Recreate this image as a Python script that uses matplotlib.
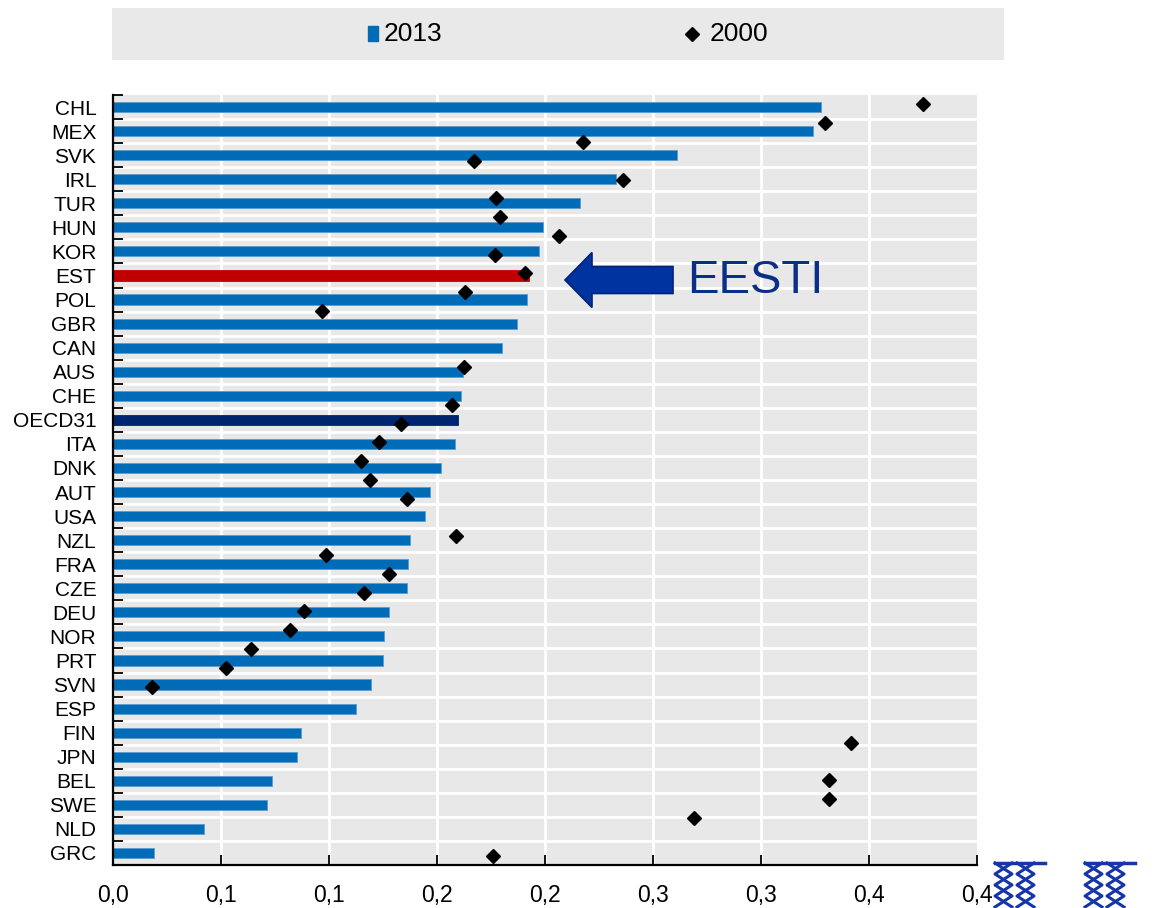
import matplotlib
matplotlib.use("Agg")
import matplotlib.pyplot as plt
from matplotlib.patches import Polygon, Rectangle
from matplotlib.lines import Line2D
import numpy as np

# ---------------- data ----------------
countries = ["CHL", "MEX", "SVK", "IRL", "TUR", "HUN", "KOR", "EST", "POL", "GBR",
             "CAN", "AUS", "CHE", "OECD31", "ITA", "DNK", "AUT", "USA", "NZL", "FRA",
             "CZE", "DEU", "NOR", "PRT", "SVN", "ESP", "FIN", "JPN", "BEL", "SWE",
             "NLD", "GRC"]
values_2013 = [0.328, 0.324, 0.261, 0.233, 0.216, 0.199, 0.197, 0.1925, 0.1915, 0.187,
               0.180, 0.162, 0.161, 0.1597, 0.1585, 0.152, 0.1466, 0.1443, 0.1375, 0.1367,
               0.136, 0.1276, 0.1256, 0.125, 0.1196, 0.1123, 0.087, 0.0853, 0.0735, 0.0711,
               0.042, 0.0188]
# 2000 markers as placed in the original chart (41 slots, None = no marker)
values_2000_slots = [0.375, 0.3294, 0.2176, 0.1669, 0.2361, 0.1772, 0.1793, 0.2067, 0.1767, 0.1909,
                     0.1628, 0.0969, None, None, 0.1627, None, 0.157, 0.1335, 0.1233, 0.1147,
                     0.1188, 0.136, None, 0.159, 0.0986, 0.1276, 0.1164, 0.0886, 0.0818, 0.064,
                     0.0522, 0.0182, None, None, 0.3417, None, 0.3316, 0.3313, 0.2688, None,
                     0.1759]
xtick_values = [0.0, 0.05, 0.10, 0.15, 0.20, 0.25, 0.30, 0.35, 0.40]
xtick_labels = ["0,0", "0,1", "0,1", "0,2", "0,2", "0,3", "0,3", "0,4", "0,4"]
legend_labels = ["2013", "2000"]
highlight_label = "EESTI"

# ---------------- style ----------------
W, H = 1158, 908
NARROW = ["Liberation Sans Narrow", "Liberation Sans", "DejaVu Sans"]
BLUE = "#006BB6"
RED = "#C00000"
NAVY = "#002570"
BG = "#E8E8E8"

fig = plt.figure(figsize=(W / 100, H / 100), dpi=100)

def fx(px):
    return px / W

def fy(py):
    return 1 - py / H

ax = fig.add_axes([fx(113), fy(865), fx(977) - fx(113), fy(95) - fy(865)])
ax.set_facecolor(BG)

n = len(countries)
ypos = np.arange(n)
colors = [RED if c == "EST" else NAVY if c == "OECD31" else BLUE for c in countries]
edge = ["#C00000" if c == "EST" else "#002570" if c == "OECD31" else "#5A9BD0" for c in countries]
ax.barh(ypos, values_2013, height=0.42, color=colors, edgecolor=edge, linewidth=0.6, zorder=3)

ax.set_xlim(0, 0.40)
ax.set_ylim(n - 0.5, -0.5)

# gridlines
for xv in xtick_values[1:-1]:
    ax.axvline(xv, color="white", lw=2.0, zorder=1)
for b in np.arange(0.5, n - 0.5, 1.0):
    ax.axhline(b, color="white", lw=2.0, zorder=1)

# ticks
ax.set_xticks(xtick_values)
ax.set_xticklabels(xtick_labels, fontsize=16.5, family=NARROW)
ax.set_yticks(ypos)
ax.set_yticklabels(countries, fontsize=15, family=NARROW)
ax.tick_params(axis="y", length=0, pad=12)
ax.tick_params(axis="x", direction="in", length=7, width=1.3, pad=14)
ax.set_yticks(np.arange(-0.5, n, 1.0), minor=True)
ax.tick_params(axis="y", which="minor", direction="in", length=7, width=1.3)

for s in ["top", "right"]:
    ax.spines[s].set_visible(False)
for s in ["left", "bottom"]:
    ax.spines[s].set_linewidth(1.6)
    ax.spines[s].set_color("black")
    ax.spines[s].set_zorder(5)

# 2000 markers on a twin axis with 41 slots
ax2 = ax.twinx()
ax2.set_ylim(len(values_2000_slots) - 0.5, -0.5)
sx = [v for v in values_2000_slots if v is not None]
sy = [i for i, v in enumerate(values_2000_slots) if v is not None]
ax2.plot(sx, sy, linestyle="none", marker="D", markersize=7.2, color="black", zorder=6)
ax2.set_xlim(0, 0.40)
ax2.axis("off")

# legend box
lax = fig.add_axes([fx(112), fy(60), fx(1004) - fx(112), fy(8) - fy(60)])
lax.set_facecolor("#E9E9E9")
for s in lax.spines.values():
    s.set_visible(False)
lax.set_xticks([])
lax.set_yticks([])
lax.add_patch(Rectangle((368, 26), 10, 15, color=BLUE))
lax.text(384, 34, legend_labels[0], fontsize=19, family=NARROW, va="center", ha="left")
lax.plot([692], [34], marker="D", markersize=7.2, color="black")
lax.text(710, 34, legend_labels[1], fontsize=19, family=NARROW, va="center", ha="left")
lax.set_xlim(112, 1004)
lax.set_ylim(60, 8)

# arrow + EESTI label (figure pixel coordinates)
arrow_px = [(565, 280), (592, 252.5), (592, 266.5), (673, 266.5), (673, 293.5), (592, 293.5), (592, 307.5)]
arrow = Polygon([(fx(x), fy(y)) for x, y in arrow_px], closed=True, transform=fig.transFigure,
                facecolor="#0033A0", edgecolor="#00237A", linewidth=1.2, zorder=10)
fig.patches.append(arrow)
fig.text(fx(687), fy(281), highlight_label, fontsize=34, color="#0B2F87",
         family=["Liberation Sans", "DejaVu Sans"], va="center", ha="left")

# logo (approximate interlaced zigzag mark)
def draw_logo(x0):
    y0 = 863
    c = "#1535A8"
    fig.add_artist(Line2D([fx(x0), fx(x0 + 50)], [fy(y0), fy(y0)], color=c, lw=2.5,
                          transform=fig.transFigure))
    amp, step = 17, 11
    for dx, phase in [(0, 0), (0, 1), (22, 0), (22, 1)]:
        xs, ys = [], []
        for i in range(5):
            xs.append(x0 + dx + (amp if (i + phase) % 2 else 0))
            ys.append(y0 + i * step)
        fig.add_artist(Line2D([fx(v) for v in xs], [fy(v) for v in ys], color=c, lw=2.2,
                              transform=fig.transFigure))

draw_logo(995)
draw_logo(1085)

fig.savefig("out.png", dpi=100)
